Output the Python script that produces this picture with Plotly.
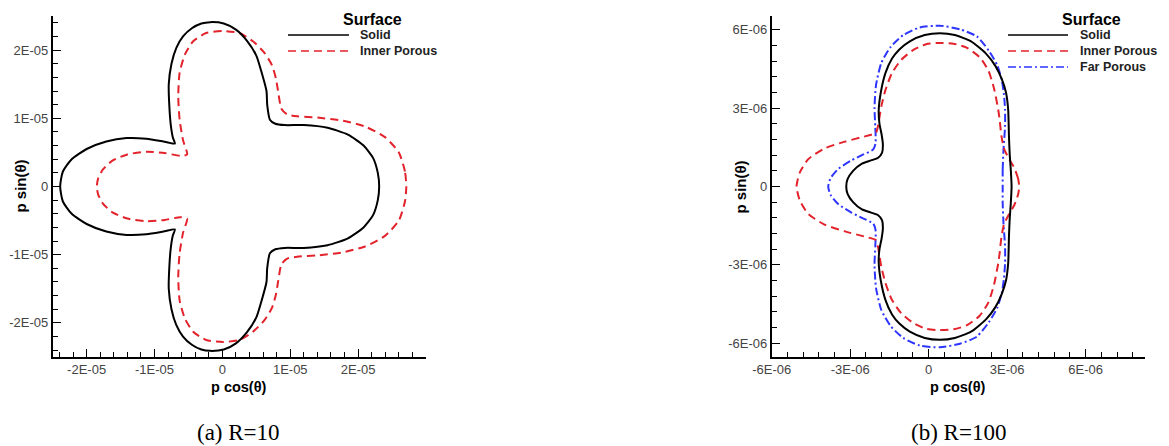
import numpy as np
import plotly.graph_objects as go

W, H = 1169, 446

# ---------------- (a) R=10 : p cos(theta), p sin(theta) in units of 1E-05 ----------------
SCALE_A = 1e-5
solid_a_x = [2.31, 2.29, 2.22, 2.08, 1.85, 1.55, 1.20, 0.92, 0.78, 0.70, 0.66, 0.65, 0.57, 0.50, 0.36,
             0.20, 0.02, -0.18, -0.31, -0.45, -0.58, -0.68, -0.75, -0.79, -0.78, -0.76, -0.73, -0.70,
             -0.87, -1.12, -1.41, -1.71, -2.00, -2.22, -2.35, -2.39,
             -2.35, -2.22, -2.00, -1.71, -1.41, -1.12, -0.87, -0.70, -0.73, -0.76, -0.78, -0.79, -0.75,
             -0.68, -0.58, -0.45, -0.31, -0.18, 0.02, 0.20, 0.36, 0.50, 0.57, 0.65, 0.66, 0.70, 0.78,
             0.92, 1.20, 1.55, 1.85, 2.08, 2.22, 2.29, 2.31]
solid_a_y = [0, 0.20, 0.42, 0.60, 0.76, 0.86, 0.90, 0.90, 0.92, 0.98, 1.20, 1.40, 1.70, 1.92, 2.14,
             2.30, 2.39, 2.41, 2.39, 2.32, 2.20, 2.03, 1.80, 1.50, 1.15, 0.90, 0.72, 0.63,
             0.66, 0.70, 0.71, 0.66, 0.55, 0.40, 0.22, 0,
             -0.22, -0.40, -0.55, -0.66, -0.71, -0.70, -0.66, -0.63, -0.72, -0.90, -1.15, -1.50, -1.80,
             -2.03, -2.20, -2.32, -2.39, -2.41, -2.39, -2.30, -2.14, -1.92, -1.70, -1.40, -1.20, -0.98, -0.92,
             -0.90, -0.90, -0.86, -0.76, -0.60, -0.42, -0.20, 0]

inner_a_x = [2.71, 2.69, 2.60, 2.40, 2.10, 1.75, 1.40, 1.10, 0.95, 0.87, 0.82, 0.79, 0.73, 0.62, 0.45,
             0.25, 0.01, -0.24, -0.43, -0.55, -0.63, -0.65, -0.63, -0.58, -0.52, -0.62, -0.85, -1.12,
             -1.40, -1.62, -1.76, -1.83, -1.85,
             -1.83, -1.76, -1.62, -1.40, -1.12, -0.85, -0.62, -0.52, -0.58, -0.63, -0.65, -0.63, -0.55,
             -0.43, -0.24, 0.01, 0.25, 0.45, 0.62, 0.73, 0.79, 0.82, 0.87, 0.95, 1.10, 1.40, 1.75,
             2.10, 2.40, 2.60, 2.69, 2.71]
inner_a_y = [0, 0.22, 0.50, 0.72, 0.88, 0.97, 1.01, 1.03, 1.06, 1.14, 1.40, 1.58, 1.78, 1.96, 2.13,
             2.25, 2.28, 2.25, 2.13, 1.94, 1.67, 1.32, 0.98, 0.68, 0.47, 0.45, 0.49, 0.51,
             0.47, 0.38, 0.25, 0.12, 0,
             -0.12, -0.25, -0.38, -0.47, -0.51, -0.49, -0.45, -0.47, -0.68, -0.98, -1.32, -1.67, -1.94,
             -2.13, -2.25, -2.28, -2.25, -2.13, -1.96, -1.78, -1.58, -1.40, -1.14, -1.06, -1.03, -1.01, -0.97,
             -0.88, -0.72, -0.50, -0.22, 0]

# ---------------- (b) R=100 : values in units of 1E-06 ----------------
SCALE_B = 1e-6
solid_b_x = [3.17, 3.14, 3.10, 3.07, 3.04, 2.96, 2.80, 2.55, 2.20, 1.62, 1.00, 0.43, -0.15, -0.72,
             -1.12, -1.40, -1.65, -1.83, -1.91, -1.88, -1.80, -1.75, -1.78, -1.93, -2.20, -2.55, -2.89,
             -3.10, -3.15,
             -3.10, -2.89, -2.55, -2.20, -1.93, -1.78, -1.75, -1.80, -1.88, -1.91, -1.83, -1.65, -1.40,
             -1.12, -0.72, -0.15, 0.43, 1.00, 1.62, 2.20, 2.55, 2.80, 2.96, 3.04, 3.07, 3.10, 3.14, 3.17]
solid_b_y = [0, 0.64, 1.20, 1.90, 2.94, 3.58, 4.10, 4.62, 5.08, 5.56, 5.80, 5.87, 5.80, 5.56,
             5.25, 4.90, 4.35, 3.60, 2.90, 2.40, 2.00, 1.60, 1.30, 1.10, 1.00, 0.88, 0.60,
             0.28, 0,
             -0.28, -0.60, -0.88, -1.00, -1.10, -1.30, -1.60, -2.00, -2.40, -2.90, -3.60, -4.35, -4.90,
             -5.25, -5.56, -5.80, -5.87, -5.80, -5.56, -5.08, -4.62, -4.10, -3.58, -2.94, -1.90, -1.20, -0.64, 0]

inner_b_x = [3.46, 3.42, 3.28, 3.06, 2.88, 2.78, 2.72, 2.66, 2.50, 2.28, 1.95, 1.45, 0.95, 0.43,
             -0.10, -0.60, -1.05, -1.40, -1.65, -1.81, -1.94, -2.02, -2.40, -3.20, -4.00, -4.60, -4.92,
             -5.05,
             -4.92, -4.60, -4.00, -3.20, -2.40, -2.02, -1.94, -1.81, -1.65, -1.40, -1.05, -0.60, -0.10,
             0.43, 0.95, 1.45, 1.95, 2.28, 2.50, 2.66, 2.72, 2.78, 2.88, 3.06, 3.28, 3.42, 3.46]
inner_b_y = [0, 0.30, 0.70, 1.08, 1.45, 1.95, 2.50, 2.94, 3.75, 4.45, 4.95, 5.32, 5.47, 5.50,
             5.45, 5.22, 4.85, 4.35, 3.70, 3.07, 2.30, 2.05, 1.93, 1.72, 1.45, 1.05, 0.55,
             0,
             -0.55, -1.05, -1.45, -1.72, -1.93, -2.05, -2.30, -3.07, -3.70, -4.35, -4.85, -5.22, -5.45,
             -5.50, -5.47, -5.32, -4.95, -4.45, -3.75, -2.94, -2.50, -1.95, -1.45, -1.08, -0.70, -0.30, 0]

far_b_x = [2.83, 2.83, 2.86, 2.92, 2.92, 2.88, 2.80, 2.62, 2.30, 1.84, 1.20, 0.43, -0.34, -0.97,
           -1.45, -1.81, -2.01, -2.07, -2.04, -2.03, -2.12, -2.55, -2.95, -3.45, -3.75, -3.84,
           -3.75, -3.45, -2.95, -2.55, -2.12, -2.03, -2.04, -2.07, -2.01, -1.81, -1.45, -0.97, -0.34,
           0.43, 1.20, 1.84, 2.30, 2.62, 2.80, 2.88, 2.92, 2.92, 2.86, 2.83, 2.83]
far_b_y = [0, 0.64, 1.41, 2.30, 2.94, 3.50, 4.05, 4.65, 5.20, 5.75, 6.02, 6.16, 6.09, 5.80,
           5.35, 4.73, 3.90, 3.00, 2.30, 1.66, 1.42, 1.20, 1.00, 0.68, 0.32, 0,
           -0.32, -0.68, -1.00, -1.20, -1.42, -1.66, -2.30, -3.00, -3.90, -4.73, -5.35, -5.80, -6.09,
           -6.16, -6.02, -5.75, -5.20, -4.65, -4.05, -3.50, -2.94, -2.30, -1.41, -0.64, 0]

# axis ticks
ticks_a = [-2e-5, -1e-5, 0, 1e-5, 2e-5]
ticklabels_a = ["-2E-05", "-1E-05", "0", "1E-05", "2E-05"]
ticks_b = [-6e-6, -3e-6, 0, 3e-6, 6e-6]
ticklabels_b = ["-6E-06", "-3E-06", "0", "3E-06", "6E-06"]

BLACK = "#000000"
RED = "#e3232c"
BLUE = "#2d35ff"
SANS = "Liberation Sans, Arial, sans-serif"
SERIF = "Liberation Serif, Times New Roman, serif"

fig = go.Figure()


def curve(xs, ys, scale, color, dash, xa, ya):
    fig.add_trace(go.Scatter(
        x=np.array(xs) * scale, y=np.array(ys) * scale,
        mode="lines", line=dict(color=color, width=2, dash=dash, shape="spline", smoothing=0.6),
        xaxis=xa, yaxis=ya, showlegend=False, hoverinfo="skip"))


curve(inner_a_x, inner_a_y, SCALE_A, RED, "8px,5px", "x", "y")
curve(solid_a_x, solid_a_y, SCALE_A, BLACK, "solid", "x", "y")
curve(far_b_x, far_b_y, SCALE_B, BLUE, "8px,3px,2px,3px", "x2", "y2")
curve(inner_b_x, inner_b_y, SCALE_B, RED, "8px,5px", "x2", "y2")
curve(solid_b_x, solid_b_y, SCALE_B, BLACK, "solid", "x2", "y2")


def px_x(p):
    return p / W


def px_y(p):
    return 1 - p / H


def axis_common(tickvals, ticktext, minor_dtick):
    return dict(
        automargin=False,
        tickmode="array", tickvals=tickvals, ticktext=ticktext,
        ticks="inside", ticklen=8, tickwidth=1.3, tickcolor="black",
        minor=dict(tickmode="linear", tick0=0, dtick=minor_dtick, ticks="inside",
                   ticklen=5, tickwidth=1.1, tickcolor="black"),
        showline=True, linecolor="black", linewidth=1.6,
        showgrid=False, zeroline=False,
        tickfont=dict(family=SANS, size=13, color="#444444"),
    )


yd = [px_y(357), px_y(16)]
fig.update_layout(
    width=W, height=H, margin=dict(l=0, r=0, t=0, b=0, autoexpand=False),
    paper_bgcolor="white", plot_bgcolor="white",
    xaxis=dict(domain=[px_x(52.7), px_x(426)], range=[-2.5e-5, 3.0e-5], anchor="y",
               **axis_common(ticks_a, ticklabels_a, 2e-6)),
    yaxis=dict(domain=yd, range=[-2.5e-5, 2.5e-5], anchor="x",
               **axis_common(ticks_a, ticklabels_a, 2e-6)),
    xaxis2=dict(domain=[px_x(771.7), px_x(1145)], range=[-6e-6, 8.27e-6], anchor="y2",
                **axis_common(ticks_b, ticklabels_b, 6e-7)),
    yaxis2=dict(domain=yd, range=[-6.53e-6, 6.53e-6], anchor="x2",
                **axis_common(ticks_b, ticklabels_b, 6e-7)),
    showlegend=False,
)

annotations = []
shapes = []


def text(x, y, s, size, family=SANS, angle=0, xanchor="center", color="black"):
    annotations.append(dict(x=px_x(x), y=px_y(y), xref="paper", yref="paper", text=s,
                            showarrow=False, xanchor=xanchor, yanchor="middle", textangle=angle,
                            font=dict(family=family, size=size, color=color)))


# axis titles and captions
for cx, ax_left in ((239.3, 20), (958.3, 740)):
    text(cx, 387, "<b>p cos(θ)</b>", 14.5)
    text(ax_left, 186.5, "<b>p sin(θ)</b>", 15, angle=-90)
text(238, 432, "(a) R=10", 23, family=SERIF)
text(958, 432, "(b) R=100", 23, family=SERIF)

# legends
legend_a = [("Solid", BLACK, "solid"), ("Inner Porous", RED, "8px,5px")]
legend_b = [("Solid", BLACK, "solid"), ("Inner Porous", RED, "8px,5px"),
            ("Far Porous", BLUE, "8px,3px,2px,3px")]
for (title_x, line_x0, line_x1, label_x, items) in (
        (372, 288, 349, 358, legend_a),
        (1091.5, 1008, 1068, 1078, legend_b)):
    text(title_x, 19, "<b>Surface</b>", 16)
    for i, (name, color, dash) in enumerate(items):
        yy = 35 + i * 16
        shapes.append(dict(type="line", xref="paper", yref="paper",
                           x0=px_x(line_x0), x1=px_x(line_x1), y0=px_y(yy), y1=px_y(yy),
                           line=dict(color=color, width=1.6, dash=dash)))
        text(label_x, yy, f"<b>{name}</b>", 12.5, xanchor="left", color="#222222")

fig.update_layout(annotations=annotations, shapes=shapes)

fig.write_html("out.html", config={"displayModeBar": False})
